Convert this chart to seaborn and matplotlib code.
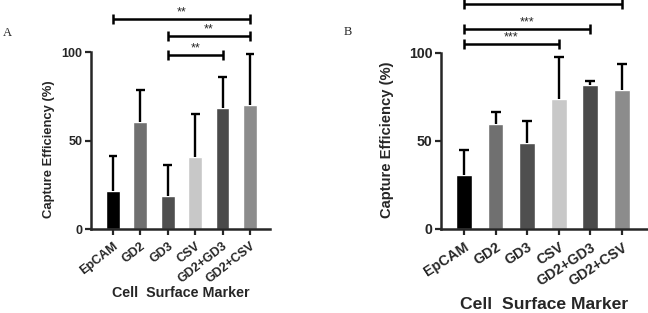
import matplotlib
matplotlib.use("Agg")
import matplotlib.pyplot as plt
import seaborn as sns
import pandas as pd
import numpy as np

categories = ["EpCAM", "GD2", "GD3", "CSV", "GD2+GD3", "GD2+CSV"]
colors = ["#000000", "#707070", "#4f4f4f", "#c8c8c8", "#4a4a4a", "#8c8c8c"]

a_means = [21.3, 60.3, 18.8, 40.7, 68.5, 70.2]
a_upper = [41.0, 78.7, 36.0, 64.8, 86.0, 99.0]
b_means = [30.5, 59.8, 48.9, 74.0, 82.0, 79.2]
b_upper = [44.7, 66.7, 61.2, 98.0, 84.0, 93.6]

# significance brackets: (start idx, end idx, y, label)
a_sig = [(0, 5, 118.6, "**"), (2, 5, 109.0, "**"), (2, 4, 98.3, "**")]
b_sig = [(0, 5, 128.0, "***"), (0, 4, 113.6, "***"), (0, 3, 105.0, "***")]

sns.set_style("ticks")
plt.rcParams["font.family"] = ["Liberation Sans", "DejaVu Sans"]

fig = plt.figure(figsize=(6.48, 3.13), dpi=100)
W, H = 648, 313


def panel(rect, means, upper, sig, xlim, ylim, tick_fs, lab_fs_y, lab_fs_x, letter,
          letter_xy, capw, rot, ylab_xy, xlab_y):
    ax = fig.add_axes(rect)
    df = pd.DataFrame({"marker": categories, "value": means})
    sns.barplot(data=df, x="marker", y="value", hue="marker", palette=colors,
                width=0.5, errorbar=None, legend=False, ax=ax, saturation=1)
    xs = np.arange(len(categories))
    m = np.array(means)
    u = np.array(upper)
    ax.vlines(xs, m, u, colors="black", lw=1.7, zorder=3)
    ax.hlines(u, xs - capw, xs + capw, colors="black", lw=1.7, zorder=3)
    ax.set_xlim(*xlim)
    ax.set_ylim(*ylim)
    ax.set_yticks([0, 50, 100])
    ax.spines["left"].set_bounds(0, 100)
    ax.spines["top"].set_visible(False)
    ax.spines["right"].set_visible(False)
    for s in ("left", "bottom"):
        ax.spines[s].set_linewidth(1.8)
    ax.tick_params(axis="both", width=1.6, length=4, labelsize=tick_fs, pad=2)
    ax.tick_params(axis="x", pad=4)
    for t in ax.get_yticklabels():
        t.set_fontweight("bold")
    ax.set_xticks(xs)
    ax.set_xticklabels(categories, rotation=rot, ha="right", rotation_mode="anchor",
                       fontweight="bold", fontsize=tick_fs)
    ax.set_ylabel("Capture Efficiency (%)", fontweight="bold", fontsize=lab_fs_y, va="center")
    ax.yaxis.set_label_coords(*ylab_xy)
    ax.set_xlabel("Cell  Surface Marker", fontweight="bold", fontsize=lab_fs_x, va="center")
    ax.xaxis.set_label_coords(0.5, xlab_y)
    dy = (ylim[1] - ylim[0]) * 0.022
    for i0, i1, y, lab in sig:
        ax.plot([i0, i1], [y, y], color="black", lw=1.8, clip_on=False, solid_capstyle="butt")
        for xi in (i0, i1):
            ax.plot([xi, xi], [y - dy, y + dy], color="black", lw=1.8, clip_on=False,
                    solid_capstyle="butt")
        ax.text((i0 + i1) / 2, y + 0.2, lab, ha="center", va="bottom", fontsize=9,
                clip_on=False)
    fig.text(letter_xy[0] / W, 1 - letter_xy[1] / H, letter, family="Liberation Serif",
             fontsize=9, ha="left", va="center")
    return ax


panel([91 / W, (H - 229) / H, (270 - 91) / W, 229 / H], a_means, a_upper, a_sig,
      (-0.8, 5.73), (0, 129.4), 9.0, 9.4, 10.3, "A", (3, 33), 0.16, 38,
      (-0.232, 0.35), -0.28)
panel([441 / W, (H - 229) / H, (647 - 441) / W, 229 / H], b_means, b_upper, b_sig,
      (-0.73, 5.8), (0, 130.1), 10.2, 10.6, 12.6, "B", (344, 32), 0.16, 33,
      (-0.262, 0.389), -0.33)

fig.savefig("out.png", dpi=100)
